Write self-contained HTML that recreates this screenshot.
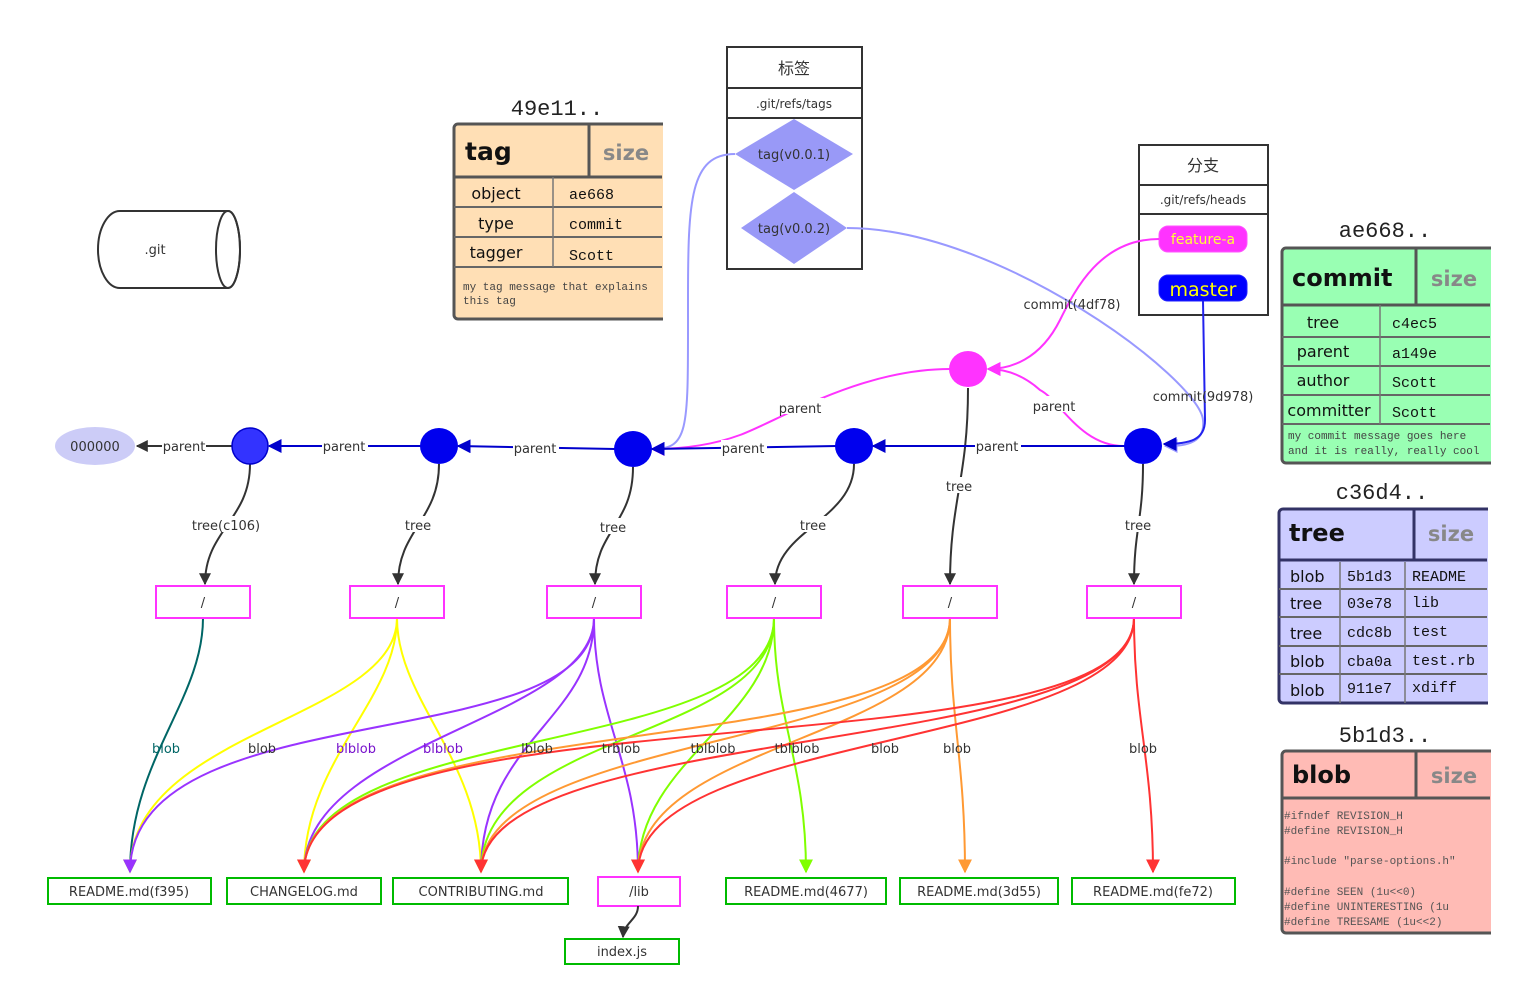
<!DOCTYPE html>
<html><head><meta charset="utf-8"><style>
html,body{margin:0;padding:0;background:#fff;width:1521px;height:998px;overflow:hidden}
svg{display:block}
.l{font-family:"DejaVu Sans","Liberation Sans","Noto Sans CJK SC",sans-serif;fill:#333}
.m{font-family:"Liberation Mono",monospace}
.b{font-family:"DejaVu Sans","Liberation Sans",sans-serif;font-weight:bold}
</style></head><body>
<svg width="1521" height="998" viewBox="0 0 1521 998" font-size="13" xmlns="http://www.w3.org/2000/svg">
<defs>
<marker id="ad" viewBox="0 0 10 10" refX="9" refY="5" markerWidth="12" markerHeight="12" markerUnits="userSpaceOnUse" orient="auto"><path d="M0,0L10,5L0,10z" fill="#333"/></marker>
<marker id="ab" viewBox="0 0 10 10" refX="9" refY="5" markerWidth="14" markerHeight="14" markerUnits="userSpaceOnUse" orient="auto"><path d="M0,0L10,5L0,10z" fill="#0000cc"/></marker>
<marker id="al" viewBox="0 0 10 10" refX="9" refY="5" markerWidth="14" markerHeight="14" markerUnits="userSpaceOnUse" orient="auto"><path d="M0,0L10,5L0,10z" fill="#9999ff"/></marker>
<marker id="am" viewBox="0 0 10 10" refX="9" refY="5" markerWidth="14" markerHeight="14" markerUnits="userSpaceOnUse" orient="auto"><path d="M0,0L10,5L0,10z" fill="#ff33ff"/></marker>
<marker id="at" viewBox="0 0 10 10" refX="9" refY="5" markerWidth="14" markerHeight="14" markerUnits="userSpaceOnUse" orient="auto"><path d="M0,0L10,5L0,10z" fill="#006666"/></marker>
<marker id="ay" viewBox="0 0 10 10" refX="9" refY="5" markerWidth="14" markerHeight="14" markerUnits="userSpaceOnUse" orient="auto"><path d="M0,0L10,5L0,10z" fill="#ffff00"/></marker>
<marker id="ap" viewBox="0 0 10 10" refX="9" refY="5" markerWidth="14" markerHeight="14" markerUnits="userSpaceOnUse" orient="auto"><path d="M0,0L10,5L0,10z" fill="#9933ff"/></marker>
<marker id="ag" viewBox="0 0 10 10" refX="9" refY="5" markerWidth="14" markerHeight="14" markerUnits="userSpaceOnUse" orient="auto"><path d="M0,0L10,5L0,10z" fill="#80ff00"/></marker>
<marker id="ao" viewBox="0 0 10 10" refX="9" refY="5" markerWidth="14" markerHeight="14" markerUnits="userSpaceOnUse" orient="auto"><path d="M0,0L10,5L0,10z" fill="#ff9933"/></marker>
<marker id="ar" viewBox="0 0 10 10" refX="9" refY="5" markerWidth="14" markerHeight="14" markerUnits="userSpaceOnUse" orient="auto"><path d="M0,0L10,5L0,10z" fill="#ff3333"/></marker>
</defs>

<!-- .git cylinder -->
<path d="M120,211 L228,211 A12,38.5 0 0 1 228,288 L120,288 A22,38.5 0 0 1 120,211 Z" fill="#fff" stroke="#333" stroke-width="2"/>
<ellipse cx="228" cy="249.5" rx="12" ry="38.5" fill="none" stroke="#333" stroke-width="2"/>
<text x="155" y="254" class="l" text-anchor="middle">.git</text>

<!-- tag card -->
<text x="557" y="115" class="m" font-size="22" text-anchor="middle" fill="#222">49e11..</text>
<rect x="454" y="124" width="220" height="195" rx="4" fill="#ffdfb5" stroke="#555" stroke-width="3"/>
<rect x="663" y="110" width="20" height="220" fill="#fff"/>
<line x1="454" y1="177" x2="662" y2="177" stroke="#555" stroke-width="3"/>
<line x1="589" y1="124" x2="589" y2="177" stroke="#555" stroke-width="3"/>
<line x1="454" y1="207" x2="662" y2="207" stroke="#666" stroke-width="2"/>
<line x1="454" y1="237" x2="662" y2="237" stroke="#666" stroke-width="2"/>
<line x1="454" y1="267" x2="662" y2="267" stroke="#666" stroke-width="2"/>
<line x1="553" y1="177" x2="553" y2="267" stroke="#777" stroke-width="1.5"/>
<text x="465" y="160" class="b" font-size="25" fill="#111">tag</text>
<text x="626" y="160" class="l" font-size="21" style="fill:#888" text-anchor="middle" font-weight="bold">size</text>
<text x="496" y="199" class="l" font-size="16" text-anchor="middle" style="fill:#111">object</text>
<text x="496" y="229" class="l" font-size="16" text-anchor="middle" style="fill:#111">type</text>
<text x="496" y="258" class="l" font-size="16" text-anchor="middle" style="fill:#111">tagger</text>
<text x="569" y="199" class="m" font-size="15" fill="#111">ae668</text>
<text x="569" y="229" class="m" font-size="15" fill="#111">commit</text>
<text x="569" y="260" class="m" font-size="15" fill="#111">Scott</text>
<text x="463" y="290" class="m" font-size="11" fill="#444">my tag message that explains</text>
<text x="463" y="304" class="m" font-size="11" fill="#444">this tag</text>

<!-- 标签 box -->
<rect x="727" y="47" width="135" height="222" fill="#fff" stroke="#333" stroke-width="2"/>
<line x1="727" y1="88" x2="862" y2="88" stroke="#333" stroke-width="2"/>
<line x1="727" y1="118" x2="862" y2="118" stroke="#333" stroke-width="2"/>
<text x="794" y="74" class="l" font-size="16" text-anchor="middle">标签</text>
<text x="794" y="108" class="l" font-size="12" text-anchor="middle">.git/refs/tags</text>
<polygon points="735,154 794,119 853,154 794,190" fill="#9999f7"/>
<polygon points="741,228 794,192 847,228 794,264" fill="#9999f7"/>
<text x="794" y="159" class="l" text-anchor="middle">tag(v0.0.1)</text>
<text x="794" y="233" class="l" text-anchor="middle">tag(v0.0.2)</text>

<!-- 分支 box -->
<rect x="1139" y="145" width="129" height="170" fill="#fff" stroke="#333" stroke-width="2"/>
<line x1="1139" y1="185" x2="1268" y2="185" stroke="#333" stroke-width="2"/>
<line x1="1139" y1="214" x2="1268" y2="214" stroke="#333" stroke-width="2"/>
<text x="1203" y="171" class="l" font-size="16" text-anchor="middle">分支</text>
<text x="1203" y="204" class="l" font-size="12" text-anchor="middle">.git/refs/heads</text>
<rect x="1159" y="226" width="88" height="26" rx="9" fill="#ff33ff" stroke="#ff55ff"/>
<text x="1203" y="244" class="l" font-size="14" text-anchor="middle" style="fill:#ffff33">feature-a</text>
<rect x="1159" y="275" width="88" height="26" rx="9" fill="#0000ff" stroke="#2222ff"/>
<text x="1203" y="296" class="l" font-size="19" text-anchor="middle" style="fill:#ffff00">master</text>

<!-- commit card -->
<text x="1385" y="237" class="m" font-size="22" text-anchor="middle" fill="#222">ae668..</text>
<rect x="1282" y="248" width="220" height="215" rx="4" fill="#99ffb3" stroke="#555" stroke-width="3"/>
<rect x="1491" y="240" width="30" height="230" fill="#fff"/>
<line x1="1282" y1="305" x2="1490" y2="305" stroke="#555" stroke-width="3"/>
<line x1="1416" y1="248" x2="1416" y2="305" stroke="#555" stroke-width="3"/>
<line x1="1282" y1="337" x2="1490" y2="337" stroke="#666" stroke-width="2"/>
<line x1="1282" y1="366" x2="1490" y2="366" stroke="#666" stroke-width="2"/>
<line x1="1282" y1="395" x2="1490" y2="395" stroke="#666" stroke-width="2"/>
<line x1="1282" y1="424" x2="1490" y2="424" stroke="#666" stroke-width="2"/>
<line x1="1380" y1="305" x2="1380" y2="424" stroke="#777" stroke-width="1.5"/>
<text x="1292" y="286" class="b" font-size="24" fill="#111">commit</text>
<text x="1454" y="286" class="l" font-size="21" style="fill:#888" text-anchor="middle" font-weight="bold">size</text>
<text x="1323" y="328" class="l" font-size="16" text-anchor="middle" style="fill:#111">tree</text>
<text x="1323" y="357" class="l" font-size="16" text-anchor="middle" style="fill:#111">parent</text>
<text x="1323" y="386" class="l" font-size="16" text-anchor="middle" style="fill:#111">author</text>
<text x="1329" y="416" class="l" font-size="16" text-anchor="middle" style="fill:#111">committer</text>
<text x="1392" y="328" class="m" font-size="15" fill="#111">c4ec5</text>
<text x="1392" y="358" class="m" font-size="15" fill="#111">a149e</text>
<text x="1392" y="387" class="m" font-size="15" fill="#111">Scott</text>
<text x="1392" y="417" class="m" font-size="15" fill="#111">Scott</text>
<text x="1288" y="439" class="m" font-size="11" fill="#444">my commit message goes here</text>
<text x="1288" y="454" class="m" font-size="11" fill="#444">and it is really, really cool</text>

<!-- tree card -->
<text x="1382" y="499" class="m" font-size="22" text-anchor="middle" fill="#222">c36d4..</text>
<rect x="1279" y="509" width="220" height="194" rx="4" fill="#ccccff" stroke="#333366" stroke-width="3"/>
<rect x="1488" y="500" width="33" height="210" fill="#fff"/>
<line x1="1279" y1="560" x2="1487" y2="560" stroke="#333366" stroke-width="3"/>
<line x1="1414" y1="509" x2="1414" y2="560" stroke="#333366" stroke-width="3"/>
<line x1="1279" y1="589" x2="1487" y2="589" stroke="#666" stroke-width="2"/>
<line x1="1279" y1="617" x2="1487" y2="617" stroke="#666" stroke-width="2"/>
<line x1="1279" y1="646" x2="1487" y2="646" stroke="#666" stroke-width="2"/>
<line x1="1279" y1="674" x2="1487" y2="674" stroke="#666" stroke-width="2"/>
<line x1="1340" y1="562" x2="1340" y2="703" stroke="#777" stroke-width="1.5"/>
<line x1="1405" y1="562" x2="1405" y2="703" stroke="#777" stroke-width="1.5"/>
<text x="1289" y="541" class="b" font-size="24" fill="#111">tree</text>
<text x="1451" y="541" class="l" font-size="21" style="fill:#888" text-anchor="middle" font-weight="bold">size</text>
<g class="l" font-size="16" style="fill:#111">
<text x="1290" y="582">blob</text><text x="1290" y="609">tree</text><text x="1290" y="639">tree</text><text x="1290" y="667">blob</text><text x="1290" y="696">blob</text>
</g>
<g class="m" font-size="15" fill="#111">
<text x="1347" y="581">5b1d3</text><text x="1347" y="608">03e78</text><text x="1347" y="637">cdc8b</text><text x="1347" y="666">cba0a</text><text x="1347" y="693">911e7</text>
<text x="1412" y="581">README</text><text x="1412" y="607">lib</text><text x="1412" y="636">test</text><text x="1412" y="665">test.rb</text><text x="1412" y="692">xdiff</text>
</g>

<!-- blob card -->
<text x="1385" y="742" class="m" font-size="22" text-anchor="middle" fill="#222">5b1d3..</text>
<rect x="1282" y="751" width="220" height="182" rx="4" fill="#ffbbb5" stroke="#555" stroke-width="3"/>
<rect x="1491" y="740" width="30" height="200" fill="#fff"/>
<line x1="1282" y1="798" x2="1490" y2="798" stroke="#555" stroke-width="3"/>
<line x1="1416" y1="751" x2="1416" y2="798" stroke="#555" stroke-width="3"/>
<text x="1292" y="783" class="b" font-size="24" fill="#111">blob</text>
<text x="1454" y="783" class="l" font-size="21" style="fill:#888" text-anchor="middle" font-weight="bold">size</text>
<g class="m" font-size="11" fill="#555">
<text x="1284" y="819">#ifndef REVISION_H</text>
<text x="1284" y="834">#define REVISION_H</text>
<text x="1284" y="864">#include "parse-options.h"</text>
<text x="1284" y="895">#define SEEN          (1u&lt;&lt;0)</text>
<text x="1284" y="910">#define UNINTERESTING   (1u</text>
<text x="1284" y="925">#define TREESAME  (1u&lt;&lt;2)</text>
</g>

<!-- blob edges -->
<g fill="none" stroke-width="2">
<path d="M203,618 C203,700 130,760 130,872" stroke="#006666" marker-end="url(#at)"/>
<path d="M397,618 C397,720 130,730 130,872" stroke="#ffff00" marker-end="url(#ay)"/>
<path d="M397,618 C397,700 304,760 304,872" stroke="#ffff00" marker-end="url(#ay)"/>
<path d="M397,618 C397,700 481,760 481,872" stroke="#ffff00" marker-end="url(#ay)"/>
<path d="M594,618 C594,760 130,690 130,872" stroke="#9933ff" marker-end="url(#ap)"/>
<path d="M594,618 C594,720 304,740 304,872" stroke="#9933ff" marker-end="url(#ap)"/>
<path d="M594,618 C594,720 481,740 481,872" stroke="#9933ff" marker-end="url(#ap)"/>
<path d="M594,618 C594,720 638,760 638,872" stroke="#9933ff" marker-end="url(#ap)"/>
<path d="M774,618 C774,760 304,720 304,872" stroke="#80ff00" marker-end="url(#ag)"/>
<path d="M774,618 C774,740 481,730 481,872" stroke="#80ff00" marker-end="url(#ag)"/>
<path d="M774,618 C774,720 638,760 638,872" stroke="#80ff00" marker-end="url(#ag)"/>
<path d="M774,618 C774,720 806,760 806,872" stroke="#80ff00" marker-end="url(#ag)"/>
<path d="M950,618 C950,770 304,700 304,872" stroke="#ff9933" marker-end="url(#ao)"/>
<path d="M950,618 C950,750 481,730 481,872" stroke="#ff9933" marker-end="url(#ao)"/>
<path d="M950,618 C950,740 638,740 638,872" stroke="#ff9933" marker-end="url(#ao)"/>
<path d="M950,618 C950,720 965,760 965,872" stroke="#ff9933" marker-end="url(#ao)"/>
<path d="M1134,618 C1134,780 304,680 304,872" stroke="#ff3333" marker-end="url(#ar)"/>
<path d="M1134,618 C1134,760 481,720 481,872" stroke="#ff3333" marker-end="url(#ar)"/>
<path d="M1134,618 C1134,750 638,730 638,872" stroke="#ff3333" marker-end="url(#ar)"/>
<path d="M1134,618 C1134,720 1153,760 1153,872" stroke="#ff3333" marker-end="url(#ar)"/>
</g>
<g class="l">
<text x="166" y="753" text-anchor="middle" style="fill:#006666">blob</text>
<text x="262" y="753" text-anchor="middle">blob</text>
<text x="356" y="753" text-anchor="middle" style="fill:#7711cc">blblob</text>
<text x="443" y="753" text-anchor="middle" style="fill:#7711cc">blblob</text>
<text x="537" y="753" text-anchor="middle">lblob</text>
<text x="621" y="753" text-anchor="middle">trblob</text>
<text x="713" y="753" text-anchor="middle">tblblob</text>
<text x="797" y="753" text-anchor="middle">tblblob</text>
<text x="885" y="753" text-anchor="middle">blob</text>
<text x="957" y="753" text-anchor="middle">blob</text>
<text x="1143" y="753" text-anchor="middle">blob</text>
</g>

<!-- tree boxes -->
<g fill="#fff" stroke="#ff33ff" stroke-width="2">
<rect x="156" y="586" width="94" height="32"/><rect x="350" y="586" width="94" height="32"/>
<rect x="547" y="586" width="94" height="32"/><rect x="727" y="586" width="94" height="32"/>
<rect x="903" y="586" width="94" height="32"/><rect x="1087" y="586" width="94" height="32"/>
</g>
<g class="l" text-anchor="middle">
<text x="203" y="607">/</text><text x="397" y="607">/</text><text x="594" y="607">/</text><text x="774" y="607">/</text><text x="950" y="607">/</text><text x="1134" y="607">/</text>
</g>

<!-- files -->
<g fill="#fff" stroke="#00bb00" stroke-width="2">
<rect x="48" y="878" width="163" height="26"/><rect x="227" y="878" width="154" height="26"/>
<rect x="393" y="878" width="175" height="26"/><rect x="726" y="878" width="160" height="26"/>
<rect x="900" y="878" width="158" height="26"/><rect x="1072" y="878" width="163" height="26"/>
<rect x="565" y="939" width="114" height="25"/>
</g>
<rect x="598" y="877" width="82" height="29" fill="#fff" stroke="#ff33ff" stroke-width="2"/>
<g class="l" text-anchor="middle">
<text x="129" y="896">README.md(f395)</text><text x="304" y="896">CHANGELOG.md</text>
<text x="481" y="896">CONTRIBUTING.md</text><text x="639" y="896">/lib</text>
<text x="806" y="896">README.md(4677)</text><text x="979" y="896">README.md(3d55)</text>
<text x="1153" y="896">README.md(fe72)</text><text x="622" y="956">index.js</text>
</g>
<path d="M638,906 C638,920 624,922 623,937" fill="none" stroke="#333" stroke-width="2" marker-end="url(#ad)"/>

<!-- commit -> tree -->
<g fill="none" stroke="#333" stroke-width="2" marker-end="url(#ad)">
<path d="M250,464 C250,520 205,530 205,584"/>
<path d="M439,464 C439,520 398,530 398,584"/>
<path d="M633,467 C633,525 595,530 595,584"/>
<path d="M854,464 C854,520 775,530 775,584"/>
<path d="M968,388 C968,480 950,500 950,584"/>
<path d="M1143,464 C1143,520 1134,530 1134,584"/>
</g>
<g class="l" text-anchor="middle">
<rect x="190" y="516" width="72" height="16" fill="#fff"/>
<rect x="402" y="516" width="32" height="16" fill="#fff"/>
<rect x="597" y="518" width="32" height="16" fill="#fff"/>
<rect x="797" y="516" width="32" height="16" fill="#fff"/>
<rect x="943" y="477" width="32" height="16" fill="#fff"/>
<rect x="1122" y="516" width="32" height="16" fill="#fff"/>
<text x="226" y="530">tree(c106)</text><text x="418" y="530">tree</text><text x="613" y="532">tree</text>
<text x="813" y="530">tree</text><text x="959" y="491">tree</text><text x="1138" y="530">tree</text>
</g>

<!-- top refs edges -->
<path d="M735,154 C690,154 688,200 688,300 C688,430 690,449 652,449" fill="none" stroke="#9999ff" stroke-width="2" marker-end="url(#al)"/>
<path d="M847,228 C1000,228 1200,380 1203,420 C1206,446 1180,446 1165,446" fill="none" stroke="#9999ff" stroke-width="2" marker-end="url(#al)"/>
<path d="M1203,301 L1205,420 C1205,440 1190,444 1164,444" fill="none" stroke="#2222ee" stroke-width="2" marker-end="url(#ab)"/>
<path d="M1159,239 C1100,239 1075,290 1060,320 C1040,360 1010,369 988,369" fill="none" stroke="#ff33ff" stroke-width="2" marker-end="url(#am)"/>
<path d="M1124,446 C1080,446 1060,400 1040,390 C1020,372 1000,369 988,369" fill="none" stroke="#ff33ff" stroke-width="2" marker-end="url(#am)"/>
<path d="M950,369 C860,369 780,420 740,435 C710,446 680,449 652,449" fill="none" stroke="#ff33ff" stroke-width="2" marker-end="url(#am)"/>

<!-- parent edges -->
<g fill="none" stroke-width="2">
<path d="M1127,446 L873,446" stroke="#0000cc" marker-end="url(#ab)"/>
<path d="M837,446 L652,449" stroke="#0000cc" marker-end="url(#ab)"/>
<path d="M615,449 L458,446" stroke="#0000cc" marker-end="url(#ab)"/>
<path d="M422,446 L269,446" stroke="#0000cc" marker-end="url(#ab)"/>
<path d="M232,446 L137,446" stroke="#333" marker-end="url(#ad)"/>
</g>
<g class="l" text-anchor="middle">
<rect x="1030" y="396" width="48" height="16" fill="#fff"/><text x="1054" y="411">parent</text>
<rect x="778" y="398" width="46" height="16" fill="#fff"/><text x="800" y="413">parent</text>
<rect x="975" y="438" width="46" height="16" fill="#fff"/><text x="997" y="451">parent</text>
<rect x="721" y="440" width="46" height="16" fill="#fff"/><text x="743" y="453">parent</text>
<rect x="513" y="440" width="46" height="16" fill="#fff"/><text x="535" y="453">parent</text>
<rect x="322" y="438" width="46" height="16" fill="#fff"/><text x="344" y="451">parent</text>
<rect x="162" y="438" width="44" height="16" fill="#fff"/><text x="184" y="451">parent</text>
<text x="1072" y="309">commit(4df78)</text>
<text x="1203" y="401">commit(9d978)</text>
</g>

<!-- commit nodes -->
<ellipse cx="95" cy="446" rx="40" ry="19" fill="#ccccf7"/>
<text x="95" y="451" class="l" text-anchor="middle">000000</text>
<ellipse cx="250" cy="446" rx="18" ry="18" fill="#3333ff" stroke="#0000cc" stroke-width="1.5"/>
<ellipse cx="439" cy="446" rx="19" ry="18" fill="#0000ee"/>
<ellipse cx="633" cy="449" rx="19" ry="18" fill="#0000ee"/>
<ellipse cx="854" cy="446" rx="19" ry="18" fill="#0000ee"/>
<ellipse cx="1143" cy="446" rx="19" ry="18" fill="#0000ee"/>
<ellipse cx="968" cy="369" rx="19" ry="18" fill="#ff33ff"/>
</svg>
</body></html>
